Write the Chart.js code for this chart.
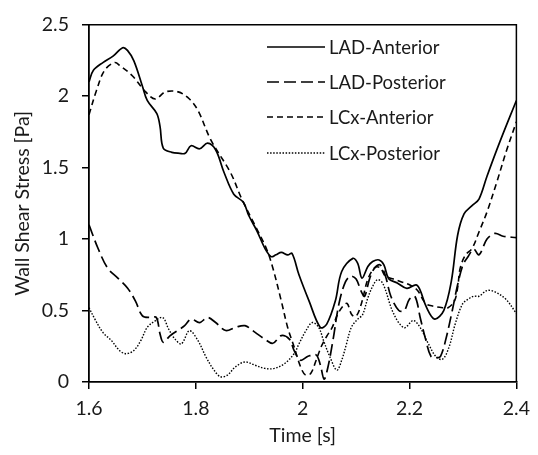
<!DOCTYPE html>
<html>
<head>
<meta charset="utf-8">
<script src="https://cdn.jsdelivr.net/npm/chart.js@4/dist/chart.umd.min.js"></script>
<style>
html,body{margin:0;padding:0;background:#fff;}
#wrap{width:538px;height:455px;position:relative;}
</style>
</head>
<body>
<div id="wrap"><canvas id="c" width="538" height="455"></canvas></div>
<script>
// ---- Data ----
const seriesNames = ["LAD-Anterior", "LAD-Posterior", "LCx-Anterior", "LCx-Posterior"];

const tLADAnt = [1.600,1.608,1.626,1.645,1.663,1.672,1.684,1.700,1.709,1.727,1.733,1.739,1.755,1.770,1.780,1.791,1.807,1.822,1.837,1.853,1.871,1.889,1.899,1.914,1.930,1.941,1.950,1.960,1.972,1.980,1.993,2.012,2.033,2.045,2.061,2.073,2.094,2.103,2.111,2.122,2.131,2.143,2.152,2.161,2.177,2.195,2.212,2.219,2.232,2.247,2.264,2.278,2.290,2.302,2.317,2.330,2.345,2.369,2.400];
const vLADAnt = [2.10,2.18,2.235,2.28,2.339,2.32,2.247,2.07,1.97,1.878,1.787,1.637,1.607,1.60,1.60,1.653,1.632,1.671,1.625,1.464,1.314,1.257,1.165,1.06,0.93,0.877,0.89,0.907,0.889,0.90,0.75,0.566,0.382,0.405,0.566,0.773,0.865,0.83,0.727,0.808,0.843,0.854,0.82,0.723,0.693,0.655,0.68,0.65,0.52,0.44,0.50,0.70,1.027,1.176,1.234,1.28,1.44,1.68,1.97];

const tLADPost = [1.600,1.617,1.635,1.654,1.672,1.687,1.700,1.715,1.726,1.733,1.739,1.752,1.770,1.779,1.791,1.807,1.822,1.837,1.856,1.874,1.892,1.911,1.929,1.944,1.960,1.975,1.984,1.996,2.010,2.025,2.033,2.040,2.047,2.057,2.068,2.080,2.090,2.100,2.110,2.116,2.125,2.135,2.145,2.155,2.165,2.180,2.190,2.200,2.210,2.220,2.230,2.240,2.250,2.258,2.268,2.280,2.290,2.300,2.310,2.320,2.330,2.345,2.360,2.375,2.400];
const vLADPost = [1.10,0.934,0.796,0.727,0.658,0.566,0.463,0.451,0.451,0.336,0.278,0.325,0.37,0.394,0.44,0.416,0.451,0.416,0.36,0.382,0.394,0.347,0.30,0.271,0.325,0.30,0.22,0.152,0.18,0.19,0.12,0.02,0.10,0.30,0.55,0.70,0.74,0.72,0.63,0.60,0.72,0.80,0.82,0.74,0.60,0.50,0.50,0.58,0.60,0.45,0.30,0.18,0.17,0.18,0.30,0.50,0.68,0.82,0.88,0.93,0.89,1.00,1.04,1.02,1.01];

const tLCxAnt = [1.600,1.614,1.629,1.648,1.659,1.681,1.706,1.724,1.743,1.767,1.788,1.804,1.828,1.865,1.886,1.914,1.932,1.944,1.960,1.972,1.984,1.996,2.005,2.015,2.025,2.035,2.045,2.055,2.065,2.075,2.083,2.092,2.100,2.110,2.122,2.135,2.145,2.155,2.170,2.185,2.200,2.215,2.230,2.245,2.262,2.272,2.284,2.290,2.295,2.305,2.317,2.330,2.345,2.363,2.382,2.400];
const vLCxAnt = [1.87,2.04,2.18,2.235,2.21,2.143,2.03,1.98,2.03,2.03,1.98,1.90,1.694,1.464,1.28,1.072,0.934,0.80,0.566,0.38,0.245,0.106,0.05,0.06,0.15,0.25,0.32,0.38,0.47,0.53,0.55,0.47,0.46,0.55,0.72,0.80,0.80,0.74,0.72,0.70,0.68,0.64,0.55,0.53,0.52,0.52,0.566,0.66,0.80,0.89,0.934,1.05,1.19,1.395,1.625,1.82];

const tLCxPost = [1.600,1.611,1.626,1.642,1.657,1.669,1.684,1.697,1.709,1.724,1.738,1.749,1.761,1.773,1.788,1.804,1.819,1.834,1.846,1.859,1.874,1.892,1.911,1.929,1.947,1.966,1.984,1.993,2.006,2.018,2.030,2.039,2.051,2.064,2.073,2.082,2.091,2.103,2.112,2.122,2.131,2.140,2.150,2.170,2.190,2.207,2.220,2.235,2.250,2.262,2.274,2.285,2.299,2.310,2.320,2.330,2.345,2.360,2.380,2.400];
const vLCxPost = [0.52,0.44,0.347,0.29,0.221,0.198,0.221,0.29,0.382,0.428,0.451,0.371,0.30,0.267,0.359,0.29,0.175,0.083,0.037,0.048,0.106,0.14,0.117,0.095,0.095,0.129,0.198,0.267,0.359,0.416,0.382,0.29,0.175,0.083,0.152,0.267,0.382,0.44,0.47,0.589,0.67,0.716,0.69,0.48,0.38,0.43,0.38,0.27,0.175,0.16,0.245,0.40,0.545,0.58,0.60,0.60,0.64,0.63,0.58,0.48];

const xTicks = [1.6, 1.8, 2.0, 2.2, 2.4];
const yTicks = [0, 0.5, 1, 1.5, 2, 2.5];

// ---- helpers ----
function pts(ts, vs){ return ts.map((t,i)=>({x:t, y:vs[i]})); }
const FONT = "Lato, 'Open Sans', sans-serif";
const TXT = '#1a1a1a';

const styles = [
  {borderDash: [], borderWidth: 1.7},
  {borderDash: [12, 5], borderWidth: 1.7},
  {borderDash: [6, 4], borderWidth: 1.6},
  {borderDash: [1.5, 1.6], borderWidth: 1.4}
];
const dataSets = [pts(tLADAnt,vLADAnt), pts(tLADPost,vLADPost), pts(tLCxAnt,vLCxAnt), pts(tLCxPost,vLCxPost)];

const frameAndLegend = {
  id: 'frameAndLegend',
  afterDraw(chart){
    const ctx = chart.ctx, a = chart.chartArea;
    ctx.save();
    ctx.strokeStyle = '#000';
    ctx.lineWidth = 1.5;
    ctx.beginPath();
    ctx.moveTo(a.left, a.top); ctx.lineTo(a.right, a.top); ctx.lineTo(a.right, a.bottom);
    ctx.stroke();
    // legend
    const rows = [47, 82, 117, 153];
    chart.data.datasets.forEach((ds, i) => {
      const y = rows[i];
      ctx.strokeStyle = '#000';
      ctx.lineWidth = ds.borderWidth;
      ctx.setLineDash(ds.borderDash);
      ctx.beginPath(); ctx.moveTo(267, y); ctx.lineTo(325, y); ctx.stroke();
      ctx.setLineDash([]);
      ctx.fillStyle = TXT;
      ctx.font = "18.5px " + FONT;
      ctx.textBaseline = 'middle';
      ctx.textAlign = 'left';
      ctx.fillText(ds.label, 329, y + 1);
    });
    ctx.restore();
  }
};

new Chart(document.getElementById('c'), {
  type: 'line',
  data: {
    datasets: dataSets.map((d, i) => ({
      label: seriesNames[i],
      data: d,
      borderColor: '#000',
      borderWidth: styles[i].borderWidth,
      borderDash: styles[i].borderDash,
      pointRadius: 0,
      fill: false,
      tension: 0.35
    }))
  },
  options: {
    responsive: false,
    animation: false,
    layout: {padding: {top: 20, right: 13, left: 0, bottom: 0}},
    plugins: {legend: {display: false}, tooltip: {enabled: false}},
    scales: {
      x: {
        type: 'linear', min: 1.6, max: 2.4,
        afterBuildTicks(s){ s.ticks = xTicks.map(v => ({value: v})); },
        afterFit(s){ s.height = 73; },
        ticks: {padding: 8, color: TXT, font: {family: FONT, size: 19.5},
                callback: v => String(Math.round(v*10)/10)},
        grid: {display: true, drawOnChartArea: false, drawTicks: true, tickLength: 7, color: '#000', lineWidth: 1.5},
        border: {display: true, color: '#000', width: 1.8},
        title: {display: true, text: 'Time [s]', color: TXT, font: {family: FONT, size: 19.5}, padding: {top: 0, bottom: 8}}
      },
      y: {
        type: 'linear', min: 0, max: 2.5,
        afterBuildTicks(s){ s.ticks = yTicks.map(v => ({value: v})); },
        afterFit(s){ s.width = 89; },
        ticks: {padding: 13, color: TXT, font: {family: FONT, size: 19.5},
                callback: v => String(v)},
        grid: {display: true, drawOnChartArea: false, drawTicks: true, tickLength: 7, color: '#000', lineWidth: 1.5},
        border: {display: true, color: '#000', width: 1.8},
        title: {display: true, text: 'Wall Shear Stress [Pa]', color: TXT, font: {family: FONT, size: 19.5}, padding: {top: 11, bottom: 0}}
      }
    }
  },
  plugins: [frameAndLegend]
});
</script>
</body>
</html>
